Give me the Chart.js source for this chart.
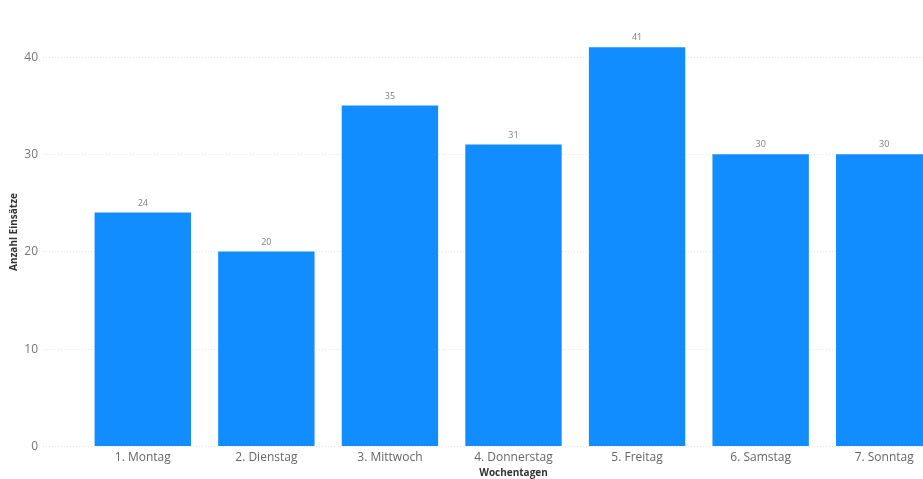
<!DOCTYPE html>
<html>
<head>
<meta charset="utf-8">
<script src="https://cdn.jsdelivr.net/npm/chart.js@4"></script>
<style>
  html, body { margin: 0; padding: 0; background: #fff; overflow: hidden; }
  #wrap { width: 960px; height: 479px; }
</style>
</head>
<body>
<div id="wrap"><canvas id="einsatzChart"></canvas></div>
<script>
// Einsätze pro Wochentag
const wochentage = ["1. Montag", "2. Dienstag", "3. Mittwoch", "4. Donnerstag", "5. Freitag", "6. Samstag", "7. Sonntag"];
const anzahlEinsaetze = [24, 20, 35, 31, 41, 30, 30];
const yTicks = [0, 10, 20, 30, 40];

const FONT = "'Segoe UI', 'Open Sans', 'DejaVu Sans', sans-serif";

// dotted gridlines + y labels, set off to the left of the bars (like Power BI)
const yAxisLook = {
  id: "yAxisLook",
  beforeDatasetsDraw(chart) {
    const ctx = chart.ctx;
    const y = chart.scales.y;
    const area = chart.chartArea;
    ctx.save();
    ctx.strokeStyle = "#e3e3e3";
    ctx.lineWidth = 1;
    ctx.setLineDash([1, 2]);
    ctx.font = "12px " + FONT;
    ctx.fillStyle = "#777";
    ctx.textAlign = "right";
    ctx.textBaseline = "middle";
    yTicks.forEach(v => {
      const py = Math.round(y.getPixelForValue(v)) + 0.5;
      ctx.beginPath();
      ctx.moveTo(area.left - 38, py);
      ctx.lineTo(area.right, py);
      ctx.stroke();
      ctx.fillText(v, area.left - 43, py);
    });
    ctx.restore();
  }
};

// simple value labels above the bars
const valueLabels = {
  id: "valueLabels",
  afterDatasetsDraw(chart) {
    const ctx = chart.ctx;
    const meta = chart.getDatasetMeta(0);
    ctx.save();
    ctx.font = "9px " + FONT;
    ctx.fillStyle = "#808080";
    ctx.textAlign = "center";
    ctx.textBaseline = "bottom";
    meta.data.forEach((bar, i) => {
      ctx.fillText(anzahlEinsaetze[i], bar.x, bar.y - 5);
    });
    ctx.restore();
  }
};

new Chart(document.getElementById("einsatzChart"), {
  type: "bar",
  data: {
    labels: wochentage,
    datasets: [{
      data: anzahlEinsaetze,
      backgroundColor: "#118DFF",
      borderWidth: 0,
      categoryPercentage: 0.78,
      barPercentage: 1
    }]
  },
  options: {
    responsive: true,
    maintainAspectRatio: false,
    animation: false,
    layout: { padding: { top: 18, right: 14, left: 8, bottom: 0 } },
    plugins: {
      legend: { display: false },
      tooltip: { enabled: false }
    },
    scales: {
      x: {
        afterFit: scale => { scale.height = 33; },
        grid: { display: false, drawTicks: false },
        border: { display: false },
        ticks: { color: "#666", font: { family: FONT, size: 12 }, padding: 4, maxRotation: 0 },
        title: {
          display: true,
          text: "Wochentagen",
          color: "#333",
          font: { family: FONT, size: 10, weight: "bold" },
          padding: { top: 0, bottom: 0 }
        }
      },
      y: {
        min: 0,
        max: 44,
        afterFit: scale => { scale.width = 73; },
        grid: { display: false, drawTicks: false },
        border: { display: false },
        ticks: { display: false },
        title: {
          display: true,
          text: "Anzahl Einsätze",
          color: "#333",
          font: { family: FONT, size: 10, weight: "bold" },
          padding: { top: 0, bottom: 0 }
        }
      }
    }
  },
  plugins: [yAxisLook, valueLabels]
});
</script>
</body>
</html>
